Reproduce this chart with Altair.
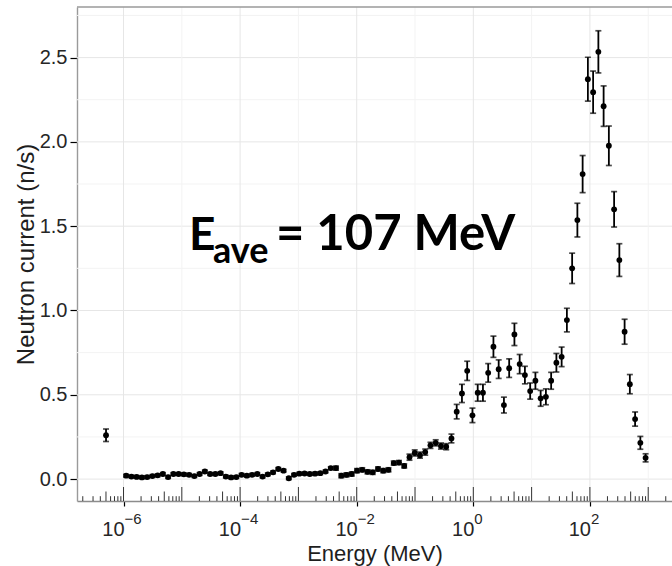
import altair as alt
import pandas as pd

# log10 of bin-centre energy (MeV); first entry is the thermal bin below 1e-6 MeV
log_energy = [
    -6.30,
    -5.955, -5.865, -5.775, -5.685, -5.595, -5.505, -5.415, -5.325, -5.235, -5.145,
    -5.055, -4.965, -4.875, -4.785, -4.695, -4.605, -4.515, -4.425, -4.335, -4.245,
    -4.155, -4.065, -3.975, -3.885, -3.795, -3.705, -3.615, -3.525, -3.435, -3.345,
    -3.255, -3.165, -3.075, -2.985, -2.895, -2.805, -2.715, -2.625, -2.535, -2.445,
    -2.355, -2.265, -2.175, -2.085, -1.995, -1.905, -1.815, -1.725, -1.635, -1.545,
    -1.455, -1.365, -1.275, -1.185, -1.095, -1.005, -0.915, -0.825, -0.735, -0.645,
    -0.555, -0.465, -0.375, -0.285, -0.195, -0.105, -0.015, 0.075, 0.165, 0.255,
    0.345, 0.435, 0.525, 0.615, 0.705, 0.795, 0.885, 0.975, 1.065, 1.155,
    1.245, 1.335, 1.425, 1.515, 1.605, 1.695, 1.785, 1.875, 1.965, 2.055,
    2.145, 2.235, 2.325, 2.415, 2.505, 2.595, 2.685, 2.775, 2.865, 2.955,
]

# neutron current per bin (n/s)
current = [
    0.26,
    0.020, 0.015, 0.013, 0.010, 0.012, 0.018, 0.022, 0.030, 0.012, 0.030,
    0.030, 0.028, 0.025, 0.018, 0.030, 0.045, 0.030, 0.030, 0.035, 0.015,
    0.010, 0.012, 0.025, 0.020, 0.025, 0.030, 0.015, 0.028, 0.040, 0.060,
    0.050, 0.005, 0.025, 0.032, 0.033, 0.030, 0.032, 0.035, 0.045, 0.065,
    0.065, 0.020, 0.025, 0.030, 0.050, 0.055, 0.043, 0.040, 0.060, 0.050,
    0.055, 0.095, 0.098, 0.078, 0.130, 0.155, 0.142, 0.160, 0.200, 0.215,
    0.196, 0.192, 0.241, 0.400, 0.508, 0.642, 0.378, 0.512, 0.512, 0.630,
    0.785, 0.652, 0.439, 0.658, 0.858, 0.682, 0.617, 0.522, 0.583, 0.479,
    0.488, 0.583, 0.690, 0.725, 0.943, 1.250, 1.536, 1.809, 2.372, 2.295,
    2.534, 2.212, 1.977, 1.600, 1.299, 0.874, 0.563, 0.356, 0.215, 0.126,
]

# one-sigma uncertainty per bin (n/s)
error = [
    0.037,
    0.008, 0.008, 0.008, 0.008, 0.008, 0.008, 0.008, 0.008, 0.008, 0.008,
    0.008, 0.008, 0.008, 0.008, 0.008, 0.008, 0.008, 0.008, 0.008, 0.008,
    0.008, 0.008, 0.008, 0.008, 0.008, 0.008, 0.008, 0.008, 0.008, 0.008,
    0.008, 0.008, 0.008, 0.008, 0.008, 0.008, 0.008, 0.008, 0.008, 0.008,
    0.012, 0.012, 0.012, 0.012, 0.012, 0.012, 0.012, 0.012, 0.012, 0.012,
    0.012, 0.012, 0.012, 0.012, 0.018, 0.018, 0.018, 0.018, 0.018, 0.018,
    0.018, 0.018, 0.026, 0.043, 0.054, 0.057, 0.043, 0.050, 0.050, 0.055,
    0.063, 0.055, 0.047, 0.055, 0.066, 0.057, 0.052, 0.048, 0.050, 0.047,
    0.047, 0.050, 0.055, 0.058, 0.070, 0.090, 0.100, 0.110, 0.130, 0.125,
    0.125, 0.120, 0.117, 0.105, 0.097, 0.074, 0.057, 0.042, 0.038, 0.024,
]

major_decades = [-6, -4, -2, 0, 2]
minor_decades = [-5, -3, -1, 1, 3]
y_major = [0.0, 0.5, 1.0, 1.5, 2.0, 2.5]
y_minor = [0.25, 0.75, 1.25, 1.75, 2.25, 2.75]
exponent_labels = ["\u22126", "\u22124", "\u22122", "0", "2"]

W, H = 595, 494
LOG_MIN, LOG_MAX = -6.798, 3.408
XMIN, XMAX = 10 ** LOG_MIN, 10 ** LOG_MAX
YMIN, YMAX = -0.13, 2.80

FONT = "Liberation Sans"

df = pd.DataFrame({
    "energy": [10 ** e for e in log_energy],
    "current": current,
    "err": error,
})
df["lo"] = df["current"] - df["err"]
df["hi"] = df["current"] + df["err"]

xs = alt.Scale(type="log", domain=[XMIN, XMAX], nice=False)
ys = alt.Scale(domain=[YMIN, YMAX], nice=False, zero=False)

# grid lines
vgrid = pd.DataFrame(
    [{"energy": 10.0 ** d, "kind": "major"} for d in major_decades]
    + [{"energy": 10.0 ** d, "kind": "minor"} for d in minor_decades]
)
hgrid = pd.DataFrame(
    [{"current": v, "kind": "major"} for v in y_major]
    + [{"current": v, "kind": "minor"} for v in y_minor]
)
grid_color = alt.Color("kind:N", scale=alt.Scale(domain=["major", "minor"],
                                                 range=["#e6e6e6", "#f3f3f3"]),
                       legend=None)
vlines = alt.Chart(vgrid).mark_rule(strokeWidth=1).encode(
    x=alt.X("energy:Q", scale=xs), color=grid_color)
hlines = alt.Chart(hgrid).mark_rule(strokeWidth=1).encode(
    y=alt.Y("current:Q", scale=ys), color=grid_color)

# log ticks drawn inside the panel along the bottom
logticks = []
for d in range(-7, 4):
    for m in range(1, 10):
        v = m * 10.0 ** d
        if XMIN <= v <= XMAX:
            kind = "long" if m == 1 else ("mid" if m == 5 else "short")
            logticks.append({"energy": v, "kind": kind})
lt = pd.DataFrame(logticks)
tick_len = {"long": 14, "mid": 9.5, "short": 4.8}
tick_layers = [
    alt.Chart(lt[lt["kind"] == k]).mark_rule(color="#333333", strokeWidth=1).encode(
        x=alt.X("energy:Q", scale=xs),
        y=alt.value(H), y2=alt.value(H - L))
    for k, L in tick_len.items()
]

# frame line along the top of the panel
top_border = alt.Chart(pd.DataFrame({"a": [0]})).mark_rule(
    color="#9a9a9a", strokeWidth=1.4).encode(
    x=alt.value(0), x2=alt.value(W), y=alt.value(0))

base = alt.Chart(df)
bars = base.mark_rule(color="black", strokeWidth=1.8).encode(
    x=alt.X("energy:Q", scale=xs,
            axis=alt.Axis(values=[10.0 ** d for d in major_decades], labels=False,
                          grid=False, tickSize=5, tickColor="black", tickWidth=1.2,
                          domainColor="#8c8c8c", domainWidth=1.4,
                          title="Energy (MeV)", titleFont=FONT, titleFontSize=22,
                          titleFontWeight="normal", titleColor="#1e1e1e",
                          titlePadding=37)),
    y=alt.Y("lo:Q", scale=ys,
            axis=alt.Axis(values=y_major, format=".1f", grid=False, tickSize=7,
                          tickColor="black", tickWidth=1.2, domainColor="#9a9a9a",
                          domainWidth=1.4, labelFont=FONT, labelFontSize=20,
                          labelColor="#262626", labelPadding=3,
                          title="Neutron current (n/s)", titleFont=FONT,
                          titleFontSize=24, titleFontWeight="normal",
                          titleColor="#1e1e1e", titlePadding=1)),
    y2="hi:Q",
)
caps_lo = base.mark_tick(color="black", orient="horizontal", size=6, thickness=1.7).encode(
    x=alt.X("energy:Q", scale=xs), y=alt.Y("lo:Q", scale=ys))
caps_hi = base.mark_tick(color="black", orient="horizontal", size=6, thickness=1.7).encode(
    x=alt.X("energy:Q", scale=xs), y=alt.Y("hi:Q", scale=ys))
dots = base.mark_circle(color="black", opacity=1, size=34).encode(
    x=alt.X("energy:Q", scale=xs), y=alt.Y("current:Q", scale=ys))

# x tick labels as 10 with a raised exponent
lab = pd.DataFrame({"energy": [10.0 ** d for d in major_decades], "exp": exponent_labels})
lab_base = alt.Chart(lab).mark_text(font=FONT, fontSize=20, color="#262626",
                                    align="right", baseline="alphabetic", dx=1).encode(
    x=alt.X("energy:Q", scale=xs), y=alt.value(H + 35), text=alt.value("10"))
lab_exp = alt.Chart(lab).mark_text(font=FONT, fontSize=15, color="#262626",
                                   align="left", baseline="alphabetic", dx=1).encode(
    x=alt.X("energy:Q", scale=xs), y=alt.value(H + 23), text="exp:N")

# average-energy annotation
ANN = dict(font="Lato", fontWeight="bold", color="black", baseline="alphabetic", align="left")
ann_e = alt.Chart(pd.DataFrame({"t": ["E"]})).mark_text(fontSize=46, **ANN).encode(
    x=alt.value(112), y=alt.value(243), text="t:N")
ann_sub = alt.Chart(pd.DataFrame({"t": ["ave"]})).mark_text(fontSize=36, **ANN).encode(
    x=alt.value(136), y=alt.value(256), text="t:N")
ann_rest = alt.Chart(pd.DataFrame({"t": ["= 107 MeV"]})).mark_text(fontSize=49, **ANN).encode(
    x=alt.value(199), y=alt.value(243), text="t:N")

chart = alt.layer(
    hlines, vlines, *tick_layers, top_border, bars, caps_lo, caps_hi, dots,
    lab_base, lab_exp, ann_e, ann_sub, ann_rest,
).properties(
    width=W, height=H,
    autosize=alt.AutoSizeParams(type="none"),
    padding={"left": 77, "top": 7, "right": 0, "bottom": 65},
    background="white",
).configure_view(stroke=None)

chart.save("out.html", embed_options={"renderer": "svg", "actions": False})
